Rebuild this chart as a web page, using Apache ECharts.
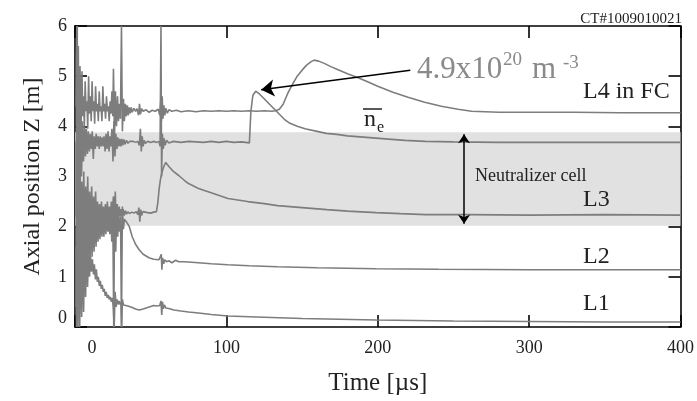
<!DOCTYPE html>
<html>
<head>
<meta charset="utf-8">
<script src="https://cdn.jsdelivr.net/npm/echarts@6/dist/echarts.min.js"></script>
<style>
html,body{margin:0;padding:0;background:#fff;}
#chart{width:697px;height:401px;}
</style>
</head>
<body>
<div id="chart"></div>
<script>
// ---- data (time in µs, axial position Z in m) ----
const X_TICKS = [0, 100, 200, 300, 400];
const Y_TICKS = [0, 1, 2, 3, 4, 5, 6];
const NEUTRALIZER_BAND = [2.02, 3.88];

const L4_IN_FC = [[0.7,4.4],[1.2,6.0],[1.7,0.5],[2.2,5.6],[2.8,2.0],[3.3,5.2],[3.9,3.8],[4.6,5.1],[5.1,4.2],[5.6,4.6],[6.2,4.0],[6.7,4.9],[7.3,4.3],[7.9,4.5],[8.4,3.95],[9.0,5.0],[9.5,4.25],[10.1,4.6],[10.7,4.1],[11.3,4.9],[11.8,4.3],[12.4,4.5],[13.0,4.05],[13.6,4.8],[14.2,4.3],[14.8,4.45],[15.4,4.1],[16.0,4.7],[16.6,4.3],[17.2,4.4],[17.8,4.1],[18.4,4.8],[19.0,4.3],[19.6,4.45],[20.2,4.15],[20.8,4.6],[21.4,4.3],[22.0,4.4],[22.6,4.1],[23.2,4.5],[23.8,4.25],[24.4,4.7],[25.0,4.2],[25.4,5.15],[26.1,3.8],[26.7,4.7],[27.4,4.0],[28.1,4.6],[28.7,4.1],[29.4,4.45],[30.0,4.15],[30.7,6.0],[31.3,3.9],[32.0,4.55],[32.6,4.1],[33.3,4.45],[33.9,4.2],[34.6,4.42],[35.2,4.22],[35.9,4.38],[36.5,4.26],[37.2,4.38],[37.8,4.28],[39,4.36],[40,4.3],[41,4.35],[42,4.22],[42.6,4.45],[43.2,4.24],[44,4.35],[45,4.3],[47,4.33],[49,4.28],[51,4.32],[53,4.3],[55,4.34],[56,4.22],[56.6,4.5],[57.1,4.1],[57.6,4.6],[58.1,4.15],[58.7,4.42],[59.3,4.22],[60,4.36],[61,4.26],[62,4.33],[64,4.3],[67,4.32],[70,4.29],[75,4.31],[80,4.29],[85,4.31],[90,4.3],[95,4.31],[100,4.3],[105,4.31],[110,4.3],[115,4.31],[120,4.3],[125,4.31],[130,4.3],[132.5,4.31],[135,4.34],[137.5,4.44],[140.3,4.64],[143,4.8],[146.8,5.0],[150,5.12],[153,5.22],[156,5.29],[158,5.32],[161,5.3],[165,5.25],[169,5.19],[173,5.14],[180,5.05],[187,4.97],[192.5,4.9],[200,4.8],[210,4.68],[220,4.58],[231,4.48],[242,4.4],[253,4.34],[262,4.3],[280,4.28],[300,4.28],[330,4.28],[360,4.27],[400,4.27]];

const NE_DENSITY = [[0.7,3.7],[1.0,0.0],[1.5,6.0],[2.0,0.8],[2.6,5.0],[3.1,2.4],[3.7,4.4],[4.3,3.0],[5.0,4.1],[5.6,3.3],[6.3,4.0],[6.9,3.4],[7.5,3.95],[8.2,3.45],[8.8,3.9],[9.5,3.5],[10.1,3.85],[10.8,3.55],[11.4,3.9],[12.1,3.35],[12.7,3.8],[13.4,3.55],[14.0,3.85],[14.7,3.6],[15.3,3.8],[16.0,3.55],[16.6,3.8],[17.3,3.6],[17.9,3.78],[18.6,3.6],[19.2,3.8],[19.9,3.5],[20.5,3.85],[21.2,3.55],[21.8,3.9],[22.5,3.5],[23.1,3.8],[23.8,3.6],[24.4,3.95],[25.1,3.3],[25.7,4.1],[26.4,3.4],[27.0,3.85],[27.7,3.55],[28.3,3.78],[29.0,3.6],[29.6,3.75],[30.3,3.6],[30.9,3.75],[31.6,3.62],[32.3,3.74],[33,3.64],[34,3.72],[35,3.66],[36,3.7],[37,3.67],[38.5,3.7],[40,3.68],[41.5,3.7],[42.5,3.62],[43.2,3.95],[43.8,3.5],[44.4,3.8],[45,3.6],[45.7,3.72],[46.5,3.66],[48,3.7],[50,3.68],[52,3.7],[54,3.68],[55.5,3.7],[56.2,3.6],[56.8,6.0],[57.2,3.0],[57.7,3.85],[58.3,3.55],[58.9,3.76],[59.6,3.62],[60.5,3.72],[62,3.67],[65,3.7],[70,3.68],[75,3.7],[80,3.69],[85,3.68],[90,3.7],[95,3.68],[100,3.7],[105,3.68],[110,3.69],[115.2,3.67],[116.2,4.3],[117.5,4.62],[119.4,4.7],[122,4.64],[125.3,4.54],[128.5,4.44],[131.8,4.34],[135,4.24],[138.3,4.14],[142,4.06],[146.8,4.0],[152,3.95],[159.9,3.9],[166,3.86],[172.9,3.84],[180,3.81],[192.5,3.78],[205,3.75],[218,3.72],[231.6,3.7],[250,3.69],[280,3.68],[320,3.68],[360,3.68],[400,3.68]];

const L3 = [[0.7,2.2],[1.1,5.5],[1.6,0.2],[2.1,4.0],[2.7,1.2],[3.2,3.2],[3.8,1.6],[4.5,2.9],[5.1,1.8],[5.8,3.1],[6.4,1.9],[7.1,2.8],[7.7,1.8],[8.4,3.0],[9.0,2.0],[9.7,2.7],[10.3,1.9],[11.0,2.8],[11.6,2.0],[12.3,2.6],[12.9,2.0],[13.6,2.7],[14.2,2.1],[14.9,2.5],[15.5,2.1],[16.2,2.45],[16.8,2.15],[17.5,2.5],[18.1,2.1],[18.8,2.4],[19.4,2.15],[20.1,2.45],[20.7,2.1],[21.4,2.5],[22.0,2.05],[22.7,2.4],[23.3,2.1],[24.0,2.5],[24.6,1.9],[25.3,2.6],[25.9,1.6],[26.6,2.7],[27.2,2.0],[27.9,2.45],[28.5,2.15],[29.2,2.4],[29.8,2.2],[30.5,2.35],[31.1,2.2],[31.8,2.35],[32.5,2.22],[33.2,2.32],[34,2.25],[35,2.3],[36,2.26],[37.5,2.29],[39,2.27],[40.5,2.3],[41.5,2.24],[42.2,2.38],[42.8,2.1],[43.4,2.34],[44,2.22],[44.8,2.3],[46,2.27],[48,2.28],[50,2.27],[52,2.29],[53.8,2.3],[54.8,2.5],[55.6,2.76],[56.5,2.95],[57.4,3.08],[58.7,3.2],[60,3.28],[62,3.2],[65,3.1],[68.5,3.02],[72,2.93],[75,2.86],[81.6,2.76],[91.4,2.66],[101,2.56],[114,2.5],[125,2.46],[133.8,2.42],[150,2.38],[166.4,2.34],[180,2.31],[199,2.28],[215,2.26],[231.6,2.24],[260,2.24],[300,2.23],[350,2.24],[400,2.23]];

const L2 = [[0.7,1.6],[1.2,0.0],[1.8,4.6],[2.3,0.6],[2.9,3.3],[3.5,0.9],[4.1,2.7],[4.8,1.0],[5.4,2.5],[6.1,1.1],[6.7,2.4],[7.4,1.2],[8.0,2.5],[8.7,1.3],[9.3,2.3],[10.0,1.3],[10.6,2.4],[11.3,1.4],[11.9,2.2],[12.6,1.5],[13.2,2.3],[13.9,1.6],[14.5,2.2],[15.2,1.7],[15.8,2.2],[16.5,1.75],[17.1,2.25],[17.8,1.8],[18.4,2.2],[19.1,1.8],[19.7,2.25],[20.4,1.85],[21.0,2.2],[21.7,1.9],[22.3,2.15],[23.0,1.85],[23.6,2.3],[24.3,1.7],[24.9,2.5],[25.6,0.0],[26.2,2.6],[26.9,1.5],[27.5,2.3],[28.2,1.8],[28.8,2.2],[29.5,1.9],[30.1,2.2],[30.7,0.0],[31.3,2.4],[32.0,1.95],[32.6,2.15],[33.9,2.1],[35.9,2.0],[37.8,1.8],[40,1.65],[42.4,1.54],[45,1.45],[48.9,1.38],[52,1.35],[55.5,1.34],[56.5,1.32],[57,1.45],[57.4,1.14],[57.9,1.38],[58.6,1.26],[59.3,1.34],[60.5,1.3],[62,1.32],[64,1.28],[65.3,1.31],[66.5,1.33],[68.5,1.3],[72,1.3],[77,1.29],[81.6,1.28],[90,1.26],[101,1.24],[115,1.22],[133.8,1.2],[160,1.18],[199,1.16],[240,1.15],[300,1.14],[350,1.14],[400,1.14]];

const L1 = [[0.7,0.4],[1.3,3.5],[1.9,0.0],[2.5,2.2],[3.1,0.0],[3.7,1.6],[4.4,0.2],[5.0,1.5],[5.7,0.3],[6.3,1.6],[7.0,0.6],[7.6,1.7],[8.3,0.8],[8.9,1.5],[9.6,1.0],[10.2,1.45],[10.9,1.1],[11.5,1.35],[12.2,1.05],[12.8,1.25],[13.5,0.95],[14.1,1.15],[14.8,0.9],[15.4,1.0],[16.1,0.82],[16.7,0.92],[17.4,0.76],[18.0,0.84],[18.7,0.7],[19.3,0.76],[20.0,0.62],[20.6,0.7],[21.3,0.58],[22.0,0.64],[22.6,0.55],[23.3,0.6],[24.0,0.5],[24.6,0.58],[25.3,0.4],[25.9,0.0],[26.5,0.7],[27.2,0.4],[27.8,0.55],[28.5,0.45],[29.1,0.52],[29.8,0.45],[30.4,0.5],[30.8,0.0],[31.3,0.55],[32,0.44],[33,0.46],[35,0.42],[37.8,0.39],[40,0.36],[42.4,0.34],[45,0.36],[48,0.39],[50,0.41],[52,0.43],[54,0.42],[56,0.43],[56.8,0.52],[57.3,0.24],[57.8,0.5],[58.4,0.36],[59,0.44],[60,0.38],[62,0.37],[65.3,0.34],[70,0.32],[75,0.3],[81.6,0.28],[90,0.25],[101,0.22],[120,0.2],[150,0.17],[199,0.14],[250,0.12],[300,0.11],[350,0.1],[400,0.1]];

// annotation anchors (data space)
const PEAK_ARROW_FROM = [221.5, 5.12];
const PEAK_ARROW_TO = [123, 4.73];
const CELL_ARROW_T = 257;

// ---- chart ----
const chart = echarts.init(document.getElementById('chart'), null, {renderer: 'canvas'});
const SERIF = '"Liberation Serif","DejaVu Serif",serif';
const TRACE = {color: '#7d7d7d', width: 1.6};
const axisLineStyle = {color: '#000', width: 1.6};

function traceSeries(name, data, extra) {
  return Object.assign({
    name: name, type: 'line', data: data, showSymbol: false, symbol: 'none',
    lineStyle: TRACE, silent: true, z: 3, animation: false
  }, extra || {});
}

function label(x, y, text, size, color, align) {
  return {type: 'text', x: x, y: y, z: 100,
    style: {text: text, font: size + 'px ' + SERIF, fill: color || '#222',
      align: align || 'left', verticalAlign: 'middle'}};
}

const option = {
  animation: false,
  backgroundColor: '#fff',
  grid: {left: 75, right: 9, top: 26, bottom: 74},
  xAxis: [{
    type: 'value', min: X_TICKS[0], max: X_TICKS[X_TICKS.length - 1], interval: 100,
    position: 'bottom',
    axisLine: {show: true, onZero: false, lineStyle: axisLineStyle},
    axisTick: {show: true, inside: true, length: 12, lineStyle: axisLineStyle},
    splitLine: {show: false},
    axisLabel: {
      margin: 12, color: '#222', fontFamily: SERIF, fontSize: 18,
      formatter: v => v === 0 ? '{z|0}' : String(v),
      rich: {z: {padding: [0, 0, 0, 34], fontFamily: SERIF, fontSize: 18, color: '#222'}}
    },
    name: 'Time [µs]', nameLocation: 'middle', nameGap: 44,
    nameTextStyle: {fontFamily: SERIF, fontSize: 25, color: '#222'}
  }, {
    type: 'value', min: X_TICKS[0], max: X_TICKS[X_TICKS.length - 1], interval: 100,
    position: 'top',
    axisLine: {show: true, onZero: false, lineStyle: axisLineStyle},
    axisTick: {show: true, inside: true, length: 12, lineStyle: axisLineStyle},
    axisLabel: {show: false}, splitLine: {show: false}
  }],
  yAxis: [{
    type: 'value', min: Y_TICKS[0], max: Y_TICKS[Y_TICKS.length - 1], interval: 1,
    position: 'left',
    axisLine: {show: true, onZero: false, lineStyle: axisLineStyle},
    axisTick: {show: true, inside: true, length: 12, lineStyle: axisLineStyle},
    splitLine: {show: false},
    axisLabel: {
      margin: 8, color: '#222', fontFamily: SERIF, fontSize: 18,
      formatter: v => v === 0 ? '{z|0}' : String(v),
      rich: {z: {padding: [0, 0, 18, 0], fontFamily: SERIF, fontSize: 18, color: '#222'}}
    },
    name: 'Axial position Z [m]', nameLocation: 'middle', nameGap: 30,
    nameTextStyle: {fontFamily: SERIF, fontSize: 24, color: '#222'}
  }, {
    type: 'value', min: Y_TICKS[0], max: Y_TICKS[Y_TICKS.length - 1], interval: 1,
    position: 'right',
    axisLine: {show: true, onZero: false, lineStyle: axisLineStyle},
    axisTick: {show: true, inside: true, length: 12, lineStyle: axisLineStyle},
    axisLabel: {show: false}, splitLine: {show: false}
  }],
  series: [
    {
      name: 'band', type: 'line', data: [], silent: true, z: 1,
      markArea: {
        silent: true,
        itemStyle: {color: '#e1e1e1'},
        data: [[{xAxis: X_TICKS[0], yAxis: NEUTRALIZER_BAND[0]}, {xAxis: X_TICKS[X_TICKS.length - 1], yAxis: NEUTRALIZER_BAND[1]}]]
      }
    },
    traceSeries('L1', L1),
    traceSeries('L2', L2),
    traceSeries('L3', L3),
    traceSeries('ne', NE_DENSITY, {
      markLine: {
        silent: true, animation: false,
        symbol: ['none', 'arrow'], symbolSize: 13,
        lineStyle: {color: '#000', width: 1.5, type: 'solid'},
        label: {show: false},
        data: [[{coord: PEAK_ARROW_FROM}, {coord: PEAK_ARROW_TO}]]
      }
    }),
    traceSeries('L4 in FC', L4_IN_FC, {
      markLine: {
        silent: true, animation: false,
        symbol: ['arrow', 'arrow'], symbolSize: 9,
        lineStyle: {color: '#000', width: 1.5, type: 'solid'},
        label: {show: false},
        data: [[{coord: [CELL_ARROW_T, NEUTRALIZER_BAND[1] - 0.04]}, {coord: [CELL_ARROW_T, NEUTRALIZER_BAND[0] + 0.04]}]]
      }
    })
  ],
  graphic: [
    label(682, 19, 'CT#1009010021', 15, '#222', 'right'),
    label(417, 69.5, '4.9x10', 31, '#8a8a8a'),
    label(503, 60, '20', 19, '#8a8a8a'),
    label(532, 69.5, 'm', 31, '#8a8a8a'),
    label(563, 63, '-3', 19, '#8a8a8a'),
    label(583, 92, 'L4 in FC', 24),
    label(364, 120, 'n', 24),
    label(377, 128, 'e', 16),
    {type: 'line', z: 100, shape: {x1: 363, y1: 109, x2: 382, y2: 109}, style: {stroke: '#222', lineWidth: 1.5}},
    label(475, 176, 'Neutralizer cell', 18),
    label(583, 200, 'L3', 24),
    label(583, 257, 'L2', 24),
    label(583, 304, 'L1', 24)
  ]
};
chart.setOption(option);
</script>
</body>
</html>
